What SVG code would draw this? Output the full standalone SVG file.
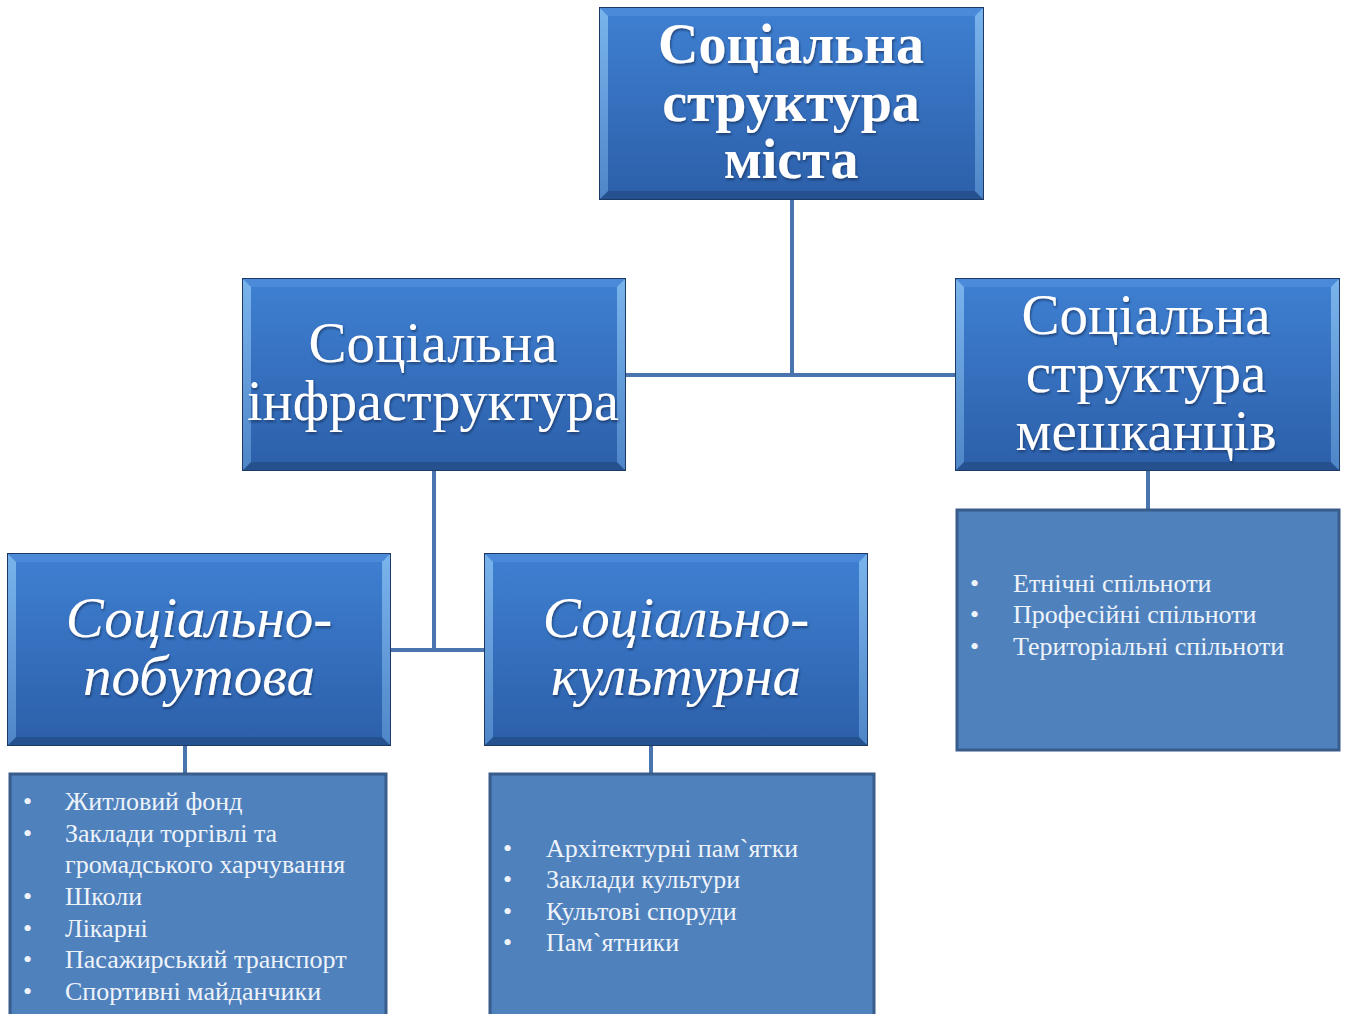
<svg xmlns="http://www.w3.org/2000/svg" width="1349" height="1014" viewBox="0 0 1349 1014">
<defs>
<linearGradient id="face" x1="0" y1="0" x2="0" y2="1">
<stop offset="0" stop-color="#3f80d2"/>
<stop offset="1" stop-color="#2c5fa9"/>
</linearGradient>
<linearGradient id="side" x1="0" y1="0" x2="0" y2="1">
<stop offset="0" stop-color="#7ab4ec"/>
<stop offset="1" stop-color="#4f86c8"/>
</linearGradient>
<filter id="sh" x="-10%" y="-10%" width="120%" height="130%">
<feDropShadow dx="1" dy="2" stdDeviation="1.2" flood-color="#102848" flood-opacity="0.6"/>
</filter>
</defs>
<style>
.outer{fill:url(#face);stroke:#1d3a66;stroke-width:2}
.bev{fill:url(#side)}
.bevt{fill:#4a8ad8}
.bevb{fill:#25528f}
.list{fill:#4f81bd;stroke:#385d8a;stroke-width:3}
.conn{stroke:#4a74ad;stroke-width:4;fill:none}
.t{font-family:"Liberation Serif","DejaVu Serif",serif;fill:#ffffff;text-anchor:middle;font-size:57px;filter:url(#sh)}
.b{font-weight:bold}
.i{font-style:italic}
.li{font-family:"Liberation Serif","DejaVu Serif",serif;fill:#eef3fa;font-size:26px}
</style>
<g id="connectors">
<path class="conn" d="M792 199 V375 M625 375 H956"/>
<path class="conn" d="M434 470 V650 M390 650 H485"/>
<path class="conn" d="M1148 470 V510"/>
<path class="conn" d="M185 745 V773"/>
<path class="conn" d="M651 745 V773"/>
</g>
<g id="top">
<rect class="outer" x="600" y="8" width="383" height="191"/>
<polygon class="bevt" points="600,8 983,8 975,16 608,16"/>
<polygon class="bevb" points="600,199 983,199 975,191 608,191"/>
<polygon class="bev" points="600,8 608,16 608,191 600,199"/>
<polygon class="bev" points="983,8 975,16 975,191 983,199"/>
<text class="t b" x="791" y="63" style="font-size:56px">Соціальна</text>
<text class="t b" x="791" y="121" style="font-size:56px">структура</text>
<text class="t b" x="791" y="178" style="font-size:56px">міста</text>
</g>
<g id="infra">
<rect class="outer" x="243" y="279" width="382" height="191"/>
<polygon class="bevt" points="243,279 625,279 617,287 251,287"/>
<polygon class="bevb" points="243,470 625,470 617,462 251,462"/>
<polygon class="bev" points="243,279 251,287 251,462 243,470"/>
<polygon class="bev" points="625,279 617,287 617,462 625,470"/>
<text class="t" x="433" y="362">Соціальна</text>
<text class="t" x="433" y="420" textLength="372" lengthAdjust="spacingAndGlyphs">інфраструктура</text>
</g>
<g id="residents">
<rect class="outer" x="956" y="279" width="383" height="191"/>
<polygon class="bevt" points="956,279 1339,279 1331,287 964,287"/>
<polygon class="bevb" points="956,470 1339,470 1331,462 964,462"/>
<polygon class="bev" points="956,279 964,287 964,462 956,470"/>
<polygon class="bev" points="1339,279 1331,287 1331,462 1339,470"/>
<text class="t" x="1146" y="334">Соціальна</text>
<text class="t" x="1146" y="392">структура</text>
<text class="t" x="1146" y="450">мешканців</text>
</g>
<g id="pobutova">
<rect class="outer" x="8" y="554" width="382" height="191"/>
<polygon class="bevt" points="8,554 390,554 382,562 16,562"/>
<polygon class="bevb" points="8,745 390,745 382,737 16,737"/>
<polygon class="bev" points="8,554 16,562 16,737 8,745"/>
<polygon class="bev" points="390,554 382,562 382,737 390,745"/>
<text class="t i" x="199" y="637">Соціально-</text>
<text class="t i" x="199" y="695">побутова</text>
</g>
<g id="kulturna">
<rect class="outer" x="485" y="554" width="382" height="191"/>
<polygon class="bevt" points="485,554 867,554 859,562 493,562"/>
<polygon class="bevb" points="485,745 867,745 859,737 493,737"/>
<polygon class="bev" points="485,554 493,562 493,737 485,745"/>
<polygon class="bev" points="867,554 859,562 859,737 867,745"/>
<text class="t i" x="676" y="637">Соціально-</text>
<text class="t i" x="676" y="695">культурна</text>
</g>
<g id="list-pobutova">
<rect class="list" x="10" y="774" width="376" height="245"/>
<g class="li">
<text x="23" y="810">•</text><text x="65" y="810">Житловий фонд</text>
<text x="23" y="842">•</text><text x="65" y="842">Заклади торгівлі та</text>
<text x="65" y="873">громадського  харчування</text>
<text x="23" y="905">•</text><text x="65" y="905">Школи</text>
<text x="23" y="937">•</text><text x="65" y="937">Лікарні</text>
<text x="23" y="968">•</text><text x="65" y="968">Пасажирський  транспорт</text>
<text x="23" y="1000">•</text><text x="65" y="1000">Спортивні майданчики</text>
</g>
</g>
<g id="list-kulturna">
<rect class="list" x="490" y="774" width="384" height="245"/>
<g class="li">
<text x="503" y="857">•</text><text x="546" y="857">Архітектурні пам`ятки</text>
<text x="503" y="888">•</text><text x="546" y="888">Заклади культури</text>
<text x="503" y="920">•</text><text x="546" y="920">Культові споруди</text>
<text x="503" y="951">•</text><text x="546" y="951">Пам`ятники</text>
</g>
</g>
<g id="list-residents">
<rect class="list" x="957" y="510" width="382" height="240"/>
<g class="li">
<text x="970" y="592">•</text><text x="1013" y="592">Етнічні спільноти</text>
<text x="970" y="623">•</text><text x="1013" y="623">Професійні спільноти</text>
<text x="970" y="655">•</text><text x="1013" y="655">Територіальні спільноти</text>
</g>
</g>
</svg>
